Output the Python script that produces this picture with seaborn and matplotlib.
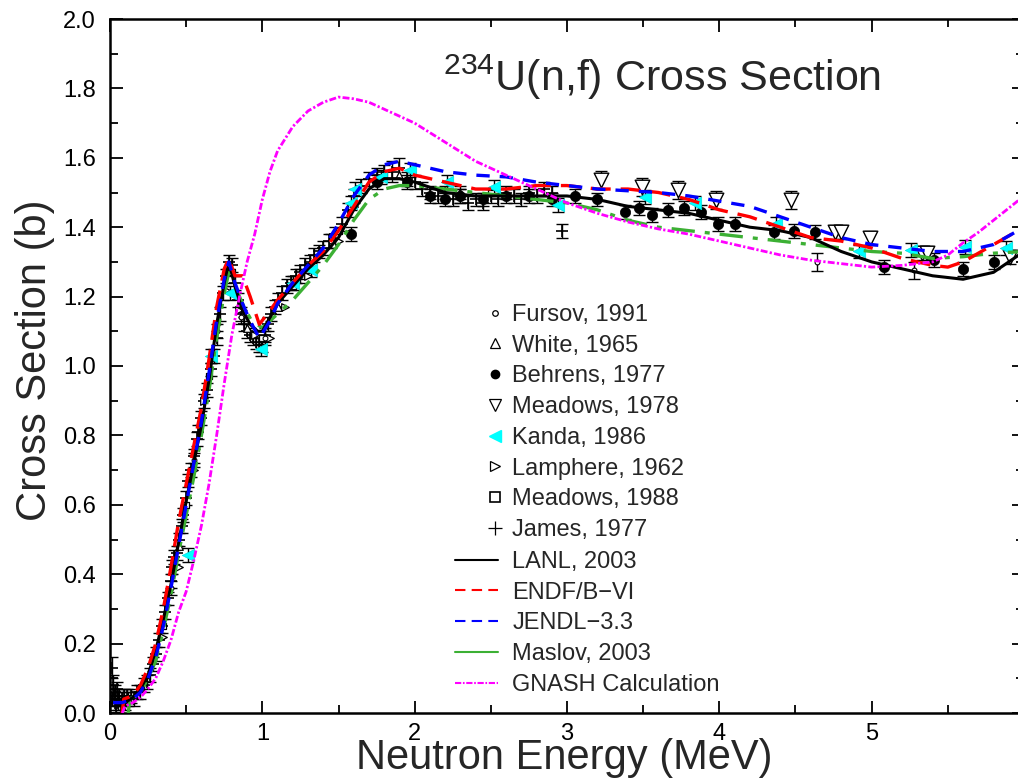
import numpy as np
import pandas as pd
import matplotlib
matplotlib.use("Agg")
import matplotlib.pyplot as plt
from matplotlib.lines import Line2D
from matplotlib.ticker import FixedLocator, MultipleLocator, FormatStrFormatter
import seaborn as sns

# ---------------- data ----------------
# James, 1977  (+)
james_x = [0.01, 0.015, 0.02, 0.025, 0.03, 0.035, 0.04, 0.045, 0.05, 0.055, 0.06, 0.07, 0.08, 0.09, 0.10,
           0.11, 0.12, 0.14, 0.16, 0.18, 0.20, 0.22, 0.24, 0.26, 0.28, 0.30, 0.32, 0.34, 0.36, 0.38,
           0.40, 0.41, 0.42, 0.44, 0.45, 0.47, 0.48, 0.50, 0.51, 0.53, 0.55, 0.57, 0.58, 0.60, 0.62,
           0.64, 0.66, 0.68, 0.70, 0.72, 0.74, 0.76, 0.78, 0.80, 0.82, 0.84, 0.86, 0.88, 0.90, 0.92,
           0.94, 0.96, 0.98, 1.00, 1.02, 1.04, 1.06, 1.08, 1.10, 1.13, 1.16, 1.19, 1.22, 1.25, 1.28,
           1.31, 1.34, 1.37, 1.40, 1.44, 1.48, 1.52, 1.56, 1.60, 1.65, 1.70, 1.75, 1.80, 1.85, 1.90,
           1.95, 2.00, 2.05, 2.10, 2.15, 2.20, 2.25, 2.30, 2.35, 2.40, 2.45, 2.50, 2.55, 2.60, 2.65,
           2.70, 2.75, 2.80, 2.85, 2.90, 2.97]
james_y = [0.04, 0.13, 0.08, 0.05, 0.03, 0.06, 0.02, 0.07, 0.04, 0.03, 0.05, 0.02, 0.04, 0.05, 0.03,
           0.05, 0.04, 0.05, 0.04, 0.06, 0.06, 0.08, 0.09, 0.11, 0.14, 0.17, 0.21, 0.25, 0.29, 0.33,
           0.38, 0.42, 0.45, 0.46, 0.50, 0.54, 0.57, 0.62, 0.67, 0.70, 0.74, 0.79, 0.81, 0.85, 0.90,
           0.93, 0.99, 1.03, 1.08, 1.15, 1.21, 1.26, 1.30, 1.29, 1.24, 1.19, 1.15, 1.12, 1.10, 1.09,
           1.08, 1.07, 1.06, 1.06, 1.09, 1.12, 1.15, 1.17, 1.19, 1.21, 1.23, 1.24, 1.26, 1.27, 1.29,
           1.30, 1.32, 1.33, 1.34, 1.36, 1.38, 1.41, 1.45, 1.49, 1.52, 1.54, 1.55, 1.56, 1.56, 1.57,
           1.54, 1.53, 1.51, 1.50, 1.49, 1.50, 1.48, 1.49, 1.47, 1.48, 1.47, 1.49, 1.48, 1.50, 1.49,
           1.48, 1.50, 1.49, 1.51, 1.50, 1.39]
james_err = [0.02, 0.03, 0.03, 0.02, 0.02, 0.02, 0.02, 0.02, 0.02, 0.02, 0.02, 0.02, 0.02, 0.02, 0.02,
             0.02, 0.02, 0.02, 0.02, 0.02, 0.02, 0.02, 0.02, 0.02, 0.02, 0.02, 0.02, 0.02, 0.02, 0.02,
             0.02, 0.02, 0.02, 0.02, 0.02, 0.02, 0.02, 0.02, 0.02, 0.02, 0.02, 0.02, 0.02, 0.02, 0.02,
             0.02, 0.02, 0.02, 0.02, 0.02, 0.02, 0.02, 0.02, 0.02, 0.02, 0.02, 0.02, 0.02, 0.02, 0.02,
             0.02, 0.02, 0.02, 0.02, 0.02, 0.02, 0.02, 0.02, 0.02, 0.02, 0.02, 0.02, 0.02, 0.02, 0.02,
             0.02, 0.02, 0.02, 0.02, 0.02, 0.02, 0.02, 0.02, 0.02, 0.02, 0.02, 0.02, 0.02, 0.03, 0.03,
             0.02, 0.02, 0.02, 0.02, 0.02, 0.02, 0.02, 0.02, 0.02, 0.02, 0.02, 0.02, 0.02, 0.02, 0.02,
             0.02, 0.02, 0.02, 0.02, 0.02, 0.02]

# Behrens, 1977 (filled circles)
behrens_x = [1.58, 1.75, 1.95, 2.10, 2.20, 2.30, 2.45, 2.60, 2.75, 2.90, 3.05, 3.20, 3.38, 3.47, 3.56,
             3.66, 3.77, 3.88, 3.99, 4.10, 4.36, 4.49, 4.63, 5.08, 5.41, 5.60, 5.80]
behrens_y = [1.38, 1.53, 1.53, 1.49, 1.48, 1.49, 1.48, 1.49, 1.49, 1.48, 1.49, 1.48, 1.445, 1.455, 1.435,
             1.45, 1.455, 1.445, 1.41, 1.41, 1.386, 1.39, 1.386, 1.285, 1.305, 1.28, 1.30]
behrens_err = [0.02, 0.02, 0.02, 0.02, 0.02, 0.02, 0.02, 0.02, 0.02, 0.02, 0.02, 0.02,
               0.02, 0.02, 0.02, 0.02, 0.02, 0.02, 0.02, 0.02, 0.02, 0.02, 0.02, 0.02,
               0.02, 0.02, 0.02]

# Meadows, 1978 (open down triangles)
meadows78_x = [3.22, 3.49, 3.73, 3.98, 4.47, 4.76, 4.80, 4.99, 5.33, 5.36, 5.91]
meadows78_y = [1.536, 1.516, 1.507, 1.478, 1.478, 1.386, 1.386, 1.369, 1.326, 1.326, 1.314]
meadows78_err = [0.025, 0.025, 0.025, 0.025, 0.025, 0.02, 0.02, 0.02, 0.02, 0.02, 0.02]

# Kanda, 1986 (cyan left triangles)
kanda_x = [0.51, 0.66, 0.79, 0.99, 1.20, 1.32, 1.58, 1.61, 1.78, 1.97, 2.21, 2.52, 2.94, 3.51, 3.84,
           4.37, 4.92, 5.26, 5.61, 5.88]
kanda_y = [0.455, 1.03, 1.21, 1.05, 1.24, 1.277, 1.47, 1.51, 1.545, 1.565, 1.53, 1.517, 1.464, 1.488, 1.47,
           1.41, 1.33, 1.334, 1.343, 1.34]
kanda_err = [0.02, 0.02, 0.02, 0.02, 0.02, 0.02, 0.02, 0.02, 0.02, 0.02, 0.02, 0.02, 0.02, 0.02, 0.02,
             0.02, 0.02, 0.02, 0.02, 0.02]

# Lamphere, 1962 (open right triangles)
lamphere_x = [0.35, 0.45, 0.55, 0.62, 0.70, 0.76, 0.85, 0.95, 1.05, 1.15, 1.30, 1.50]
lamphere_y = [0.22, 0.42, 0.70, 0.90, 1.12, 1.22, 1.16, 1.09, 1.08, 1.17, 1.26, 1.36]

# White, 1965 (open up triangles)
white_x = [0.45, 0.62, 0.77, 0.90, 1.10, 1.30, 1.60, 1.90]
white_y = [0.48, 0.92, 1.27, 1.11, 1.17, 1.28, 1.47, 1.55]

# Fursov, 1991 (small open circles)
fursov_x = [0.40, 0.55, 0.70, 0.86, 1.02, 1.25, 1.45, 2.30, 4.64, 5.28]
fursov_y = [0.36, 0.73, 1.10, 1.14, 1.08, 1.26, 1.36, 1.50, 1.30, 1.276]
fursov_err = [0.02, 0.02, 0.02, 0.02, 0.02, 0.02, 0.02, 0.02, 0.025, 0.025]

# Meadows, 1988 (open squares)
meadows88_x = [0.35, 0.50, 0.65, 0.80, 1.00, 1.20, 1.50, 1.80, 2.50]
meadows88_y = [0.25, 0.60, 0.97, 1.27, 1.08, 1.23, 1.39, 1.55, 1.50]

# Evaluations
lanl_x = [0.05, 0.10, 0.15, 0.20, 0.25, 0.30, 0.35, 0.40, 0.45, 0.50, 0.55, 0.60, 0.65, 0.70, 0.75, 0.78,
          0.82, 0.87, 0.92, 0.97, 1.00, 1.05, 1.10, 1.20, 1.30, 1.40, 1.50, 1.60, 1.70, 1.80, 1.90, 2.00,
          2.20, 2.40, 2.60, 2.80, 3.00, 3.20, 3.40, 3.60, 3.80, 4.00, 4.20, 4.40, 4.60, 4.80, 5.00, 5.20,
          5.40, 5.60, 5.80, 6.00]
lanl_y = [0.02, 0.03, 0.045, 0.07, 0.11, 0.18, 0.27, 0.37, 0.49, 0.61, 0.72, 0.83, 0.96, 1.12, 1.24, 1.30,
          1.23, 1.16, 1.12, 1.10, 1.10, 1.14, 1.18, 1.23, 1.28, 1.32, 1.37, 1.45, 1.51, 1.54, 1.54, 1.53,
          1.50, 1.49, 1.49, 1.49, 1.49, 1.48, 1.46, 1.45, 1.44, 1.42, 1.40, 1.39, 1.37, 1.33, 1.30, 1.28,
          1.26, 1.25, 1.27, 1.33]

endf_x = [0.08, 0.09, 0.15, 0.20, 0.25, 0.30, 0.35, 0.40, 0.45, 0.50, 0.55, 0.60, 0.65, 0.70, 0.75, 0.78,
          0.82, 0.87, 0.92, 0.98, 1.05, 1.10, 1.20, 1.30, 1.40, 1.50, 1.60, 1.70, 1.80, 1.90, 2.00, 2.20,
          2.40, 2.60, 2.80, 3.00, 3.20, 3.40, 3.60, 3.80, 4.00, 4.20, 4.40, 4.60, 4.80, 5.00, 5.20, 5.40,
          5.50, 5.60, 5.80, 6.00]
endf_y = [0.00, 0.04, 0.05, 0.08, 0.13, 0.20, 0.30, 0.42, 0.55, 0.66, 0.77, 0.88, 1.02, 1.17, 1.28, 1.31,
          1.26, 1.26, 1.20, 1.12, 1.16, 1.19, 1.24, 1.29, 1.33, 1.39, 1.46, 1.53, 1.56, 1.57, 1.55, 1.53,
          1.51, 1.51, 1.52, 1.52, 1.51, 1.51, 1.50, 1.48, 1.45, 1.43, 1.40, 1.37, 1.36, 1.34, 1.31, 1.29,
          1.285, 1.30, 1.35, 1.40]

jendl_x = [0.02, 0.08, 0.15, 0.20, 0.25, 0.30, 0.35, 0.40, 0.45, 0.50, 0.55, 0.60, 0.65, 0.70, 0.75, 0.78,
           0.82, 0.87, 0.92, 0.98, 1.05, 1.10, 1.20, 1.30, 1.40, 1.50, 1.60, 1.70, 1.80, 1.90, 2.00, 2.20,
           2.40, 2.60, 2.80, 3.00, 3.20, 3.40, 3.60, 3.80, 4.00, 4.20, 4.40, 4.60, 4.80, 5.00, 5.20, 5.40,
           5.60, 5.80, 6.00]
jendl_y = [0.03, 0.03, 0.04, 0.06, 0.10, 0.16, 0.25, 0.36, 0.48, 0.60, 0.72, 0.84, 0.98, 1.13, 1.25, 1.30,
           1.24, 1.18, 1.13, 1.08, 1.13, 1.18, 1.24, 1.29, 1.34, 1.41, 1.49, 1.55, 1.58, 1.59, 1.58, 1.56,
           1.55, 1.545, 1.53, 1.52, 1.51, 1.505, 1.50, 1.49, 1.475, 1.46, 1.43, 1.40, 1.37, 1.35, 1.34, 1.33,
           1.33, 1.35, 1.40]

maslov_x = [0.12, 0.13, 0.20, 0.25, 0.30, 0.35, 0.40, 0.45, 0.50, 0.55, 0.60, 0.65, 0.70, 0.75, 0.79,
            0.83, 0.88, 0.93, 1.00, 1.10, 1.20, 1.30, 1.40, 1.50, 1.60, 1.70, 1.80, 1.90, 2.00, 2.20, 2.40,
            2.60, 2.80, 3.00, 3.20, 3.40, 3.60, 3.80, 4.00, 4.20, 4.40, 4.60, 4.80, 5.00, 5.20, 5.40, 5.60,
            5.80, 6.00]
maslov_y = [0.00, 0.04, 0.06, 0.10, 0.15, 0.24, 0.34, 0.46, 0.57, 0.68, 0.80, 0.93, 1.08, 1.21, 1.29,
            1.22, 1.17, 1.13, 1.11, 1.15, 1.19, 1.24, 1.29, 1.35, 1.42, 1.48, 1.51, 1.52, 1.52, 1.51, 1.50,
            1.49, 1.48, 1.47, 1.45, 1.42, 1.40, 1.39, 1.38, 1.37, 1.36, 1.35, 1.34, 1.33, 1.325, 1.31, 1.315,
            1.325, 1.33]

gnash_x = [0.08, 0.10, 0.15, 0.20, 0.25, 0.30, 0.35, 0.40, 0.45, 0.50, 0.55, 0.60, 0.65, 0.70, 0.75, 0.80,
           0.85, 0.90, 0.95, 1.00, 1.05, 1.10, 1.20, 1.30, 1.40, 1.50, 1.60, 1.70, 1.80, 1.90, 2.00, 2.20,
           2.40, 2.60, 2.80, 3.00, 3.20, 3.40, 3.60, 3.80, 4.00, 4.20, 4.40, 4.60, 4.80, 5.00, 5.20, 5.40,
           5.50, 5.60, 5.70, 5.80, 6.00]
gnash_y = [0.00, 0.02, 0.03, 0.045, 0.07, 0.10, 0.15, 0.21, 0.29, 0.35, 0.44, 0.54, 0.66, 0.80, 0.95, 1.09,
           1.20, 1.30, 1.38, 1.48, 1.56, 1.62, 1.69, 1.735, 1.76, 1.775, 1.77, 1.76, 1.74, 1.72, 1.70, 1.645,
           1.59, 1.55, 1.51, 1.47, 1.44, 1.415, 1.395, 1.38, 1.36, 1.34, 1.32, 1.305, 1.295, 1.285, 1.29, 1.30,
           1.32, 1.355, 1.385, 1.42, 1.49]

x_ticks = [0, 1, 2, 3, 4, 5]
y_ticks = [0.0, 0.2, 0.4, 0.6, 0.8, 1.0, 1.2, 1.4, 1.6, 1.8, 2.0]

# ---------------- style ----------------
sns.set_style("ticks")
plt.rcParams['font.family'] = ['Liberation Sans', 'DejaVu Sans']
plt.rcParams['mathtext.fontset'] = 'custom'
plt.rcParams['mathtext.rm'] = 'Liberation Sans'
plt.rcParams['mathtext.it'] = 'Liberation Sans'
plt.rcParams['mathtext.bf'] = 'Liberation Sans'

W, H = 1018, 783
fig = plt.figure(figsize=(W / 100, H / 100), dpi=100)
fig.patch.set_facecolor('white')
x0, x1, ytop, ybot = 110, 1024, 19, 713
ax = fig.add_axes([x0 / W, (H - ybot) / H, (x1 - x0) / W, (ybot - ytop) / H])
ax.set_facecolor('white')

# error bars
eb = dict(fmt='none', ecolor='black', elinewidth=1.0, capsize=4, capthick=1.0, zorder=2)
ax.errorbar(james_x, james_y, yerr=james_err, **eb)
ax.errorbar(behrens_x, behrens_y, yerr=behrens_err, **eb)
ax.errorbar(meadows78_x, meadows78_y, yerr=meadows78_err, **eb)
ax.errorbar(kanda_x, kanda_y, yerr=kanda_err, **eb)
ax.errorbar(fursov_x, fursov_y, yerr=fursov_err, **eb)

# markers
sns.scatterplot(x=james_x, y=james_y, marker='+', s=70, color='black', linewidth=1.2, ax=ax, zorder=3)
sns.scatterplot(x=lamphere_x, y=lamphere_y, marker='>', s=30, facecolor='white', edgecolor='black',
                linewidth=0.9, ax=ax, zorder=3)
sns.scatterplot(x=white_x, y=white_y, marker='^', s=30, facecolor='white', edgecolor='black',
                linewidth=0.9, ax=ax, zorder=3)
sns.scatterplot(x=meadows88_x, y=meadows88_y, marker='s', s=25, facecolor='white', edgecolor='black',
                linewidth=0.9, ax=ax, zorder=3)
sns.scatterplot(x=fursov_x, y=fursov_y, marker='o', s=12, facecolor='white', edgecolor='black',
                linewidth=0.8, ax=ax, zorder=3)
sns.scatterplot(x=behrens_x, y=behrens_y, marker='o', s=55, color='black', edgecolor='black',
                linewidth=0.5, ax=ax, zorder=3)
sns.scatterplot(x=meadows78_x, y=meadows78_y, marker='v', s=110, facecolor='white', edgecolor='black',
                linewidth=1.0, ax=ax, zorder=3)
sns.scatterplot(x=kanda_x, y=kanda_y, marker='<', s=80, color='#00ffff', edgecolor='#00e0e0',
                linewidth=0.5, ax=ax, zorder=3)

# evaluated curves
sns.lineplot(x=maslov_x, y=maslov_y, sort=False, estimator=None, color='#3cb034', linewidth=2.4,
             linestyle=(0, (7, 3, 1.5, 3)), ax=ax, zorder=4)
sns.lineplot(x=lanl_x, y=lanl_y, sort=False, estimator=None, color='black', linewidth=2.2,
             linestyle='-', ax=ax, zorder=4)
sns.lineplot(x=endf_x, y=endf_y, sort=False, estimator=None, color='#ff0000', linewidth=2.4,
             linestyle=(0, (6, 3)), ax=ax, zorder=5)
sns.lineplot(x=jendl_x, y=jendl_y, sort=False, estimator=None, color='#0000ff', linewidth=2.4,
             linestyle=(0, (4, 3)), ax=ax, zorder=5)
sns.lineplot(x=gnash_x, y=gnash_y, sort=False, estimator=None, color='#ff00ff', linewidth=2.0,
             linestyle=(0, (2.5, 0.8, 0.8, 0.8)), ax=ax, zorder=6)

# axes
ax.set_xlim(0, 6)
ax.set_ylim(0, 2.0)
ax.xaxis.set_major_locator(FixedLocator(x_ticks))
ax.xaxis.set_minor_locator(MultipleLocator(0.5))
ax.yaxis.set_major_locator(FixedLocator(y_ticks))
ax.yaxis.set_minor_locator(MultipleLocator(0.1))
ax.yaxis.set_major_formatter(FormatStrFormatter('%.1f'))
ax.tick_params(which='both', direction='in', top=True, right=True, width=1.3, colors='black')
ax.tick_params(which='major', length=9)
ax.tick_params(which='minor', length=6)
ax.tick_params(axis='x', which='major', labelsize=17, pad=7)
ax.tick_params(axis='y', which='major', labelsize=17, pad=10)
for sp in ax.spines.values():
    sp.set_linewidth(1.8)
    sp.set_color('black')
ax.set_xlabel('')
ax.set_ylabel('')

fig.text(35 / W, 1 - 360 / H, 'Cross Section (b)', rotation=90, ha='center', va='center', fontsize=30)
fig.text(564 / W, (H - 769) / H, 'Neutron Energy (MeV)', ha='center', va='baseline', fontsize=30)
fig.text(662 / W, 1 - 77 / H, r'$^{\mathrm{234}}$U(n,f) Cross Section', ha='center', va='center',
         fontsize=31)

# legends
mk_handles = [
    Line2D([], [], marker='o', ms=4, mfc='white', mec='black', mew=0.9, ls='none'),
    Line2D([], [], marker='^', ms=7, mfc='white', mec='black', mew=0.9, ls='none'),
    Line2D([], [], marker='o', ms=6, mfc='black', mec='black', ls='none'),
    Line2D([], [], marker='v', ms=8, mfc='white', mec='black', mew=0.9, ls='none'),
    Line2D([], [], marker='<', ms=9, mfc='#00ffff', mec='#00ffff', ls='none'),
    Line2D([], [], marker='>', ms=7, mfc='white', mec='black', mew=0.9, ls='none'),
    Line2D([], [], marker='s', ms=7, mfc='white', mec='black', mew=1.2, ls='none'),
    Line2D([], [], marker='+', ms=10, mec='black', mew=0.9, ls='none'),
]
mk_labels = ['Fursov, 1991', 'White, 1965', 'Behrens, 1977', 'Meadows, 1978', 'Kanda, 1986',
             'Lamphere, 1962', 'Meadows, 1988', 'James, 1977']
ln_handles = [
    Line2D([], [], color='black', lw=1.5, ls='-'),
    Line2D([], [], color='#ff0000', lw=1.5, ls=(0, (5, 3))),
    Line2D([], [], color='#0000ff', lw=1.5, ls=(0, (5, 3))),
    Line2D([], [], color='#3cb034', lw=1.5, ls='-'),
    Line2D([], [], color='#ff00ff', lw=1.5, ls=(0, (3, 0.8, 0.8, 0.8))),
]
ln_labels = ['LANL, 2003', 'ENDF/B\u2212VI', 'JENDL\u22123.3', 'Maslov, 2003', 'GNASH Calculation']

fs = 17
leg1 = fig.legend(mk_handles, mk_labels, loc='upper left', bbox_to_anchor=(486 / W, 1 - 304 / H),
                  frameon=False, fontsize=fs, handlelength=0.8, handletextpad=0.3, labelspacing=0.37,
                  borderpad=0, borderaxespad=0, numpoints=1)
leg2 = fig.legend(ln_handles, ln_labels, loc='upper left', bbox_to_anchor=(455 / W, 1 - 551 / H),
                  frameon=False, fontsize=fs, handlelength=1.8, handletextpad=0.62, labelspacing=0.37,
                  borderpad=0, borderaxespad=0)

fig.savefig('out.png', dpi=100, facecolor='white')
